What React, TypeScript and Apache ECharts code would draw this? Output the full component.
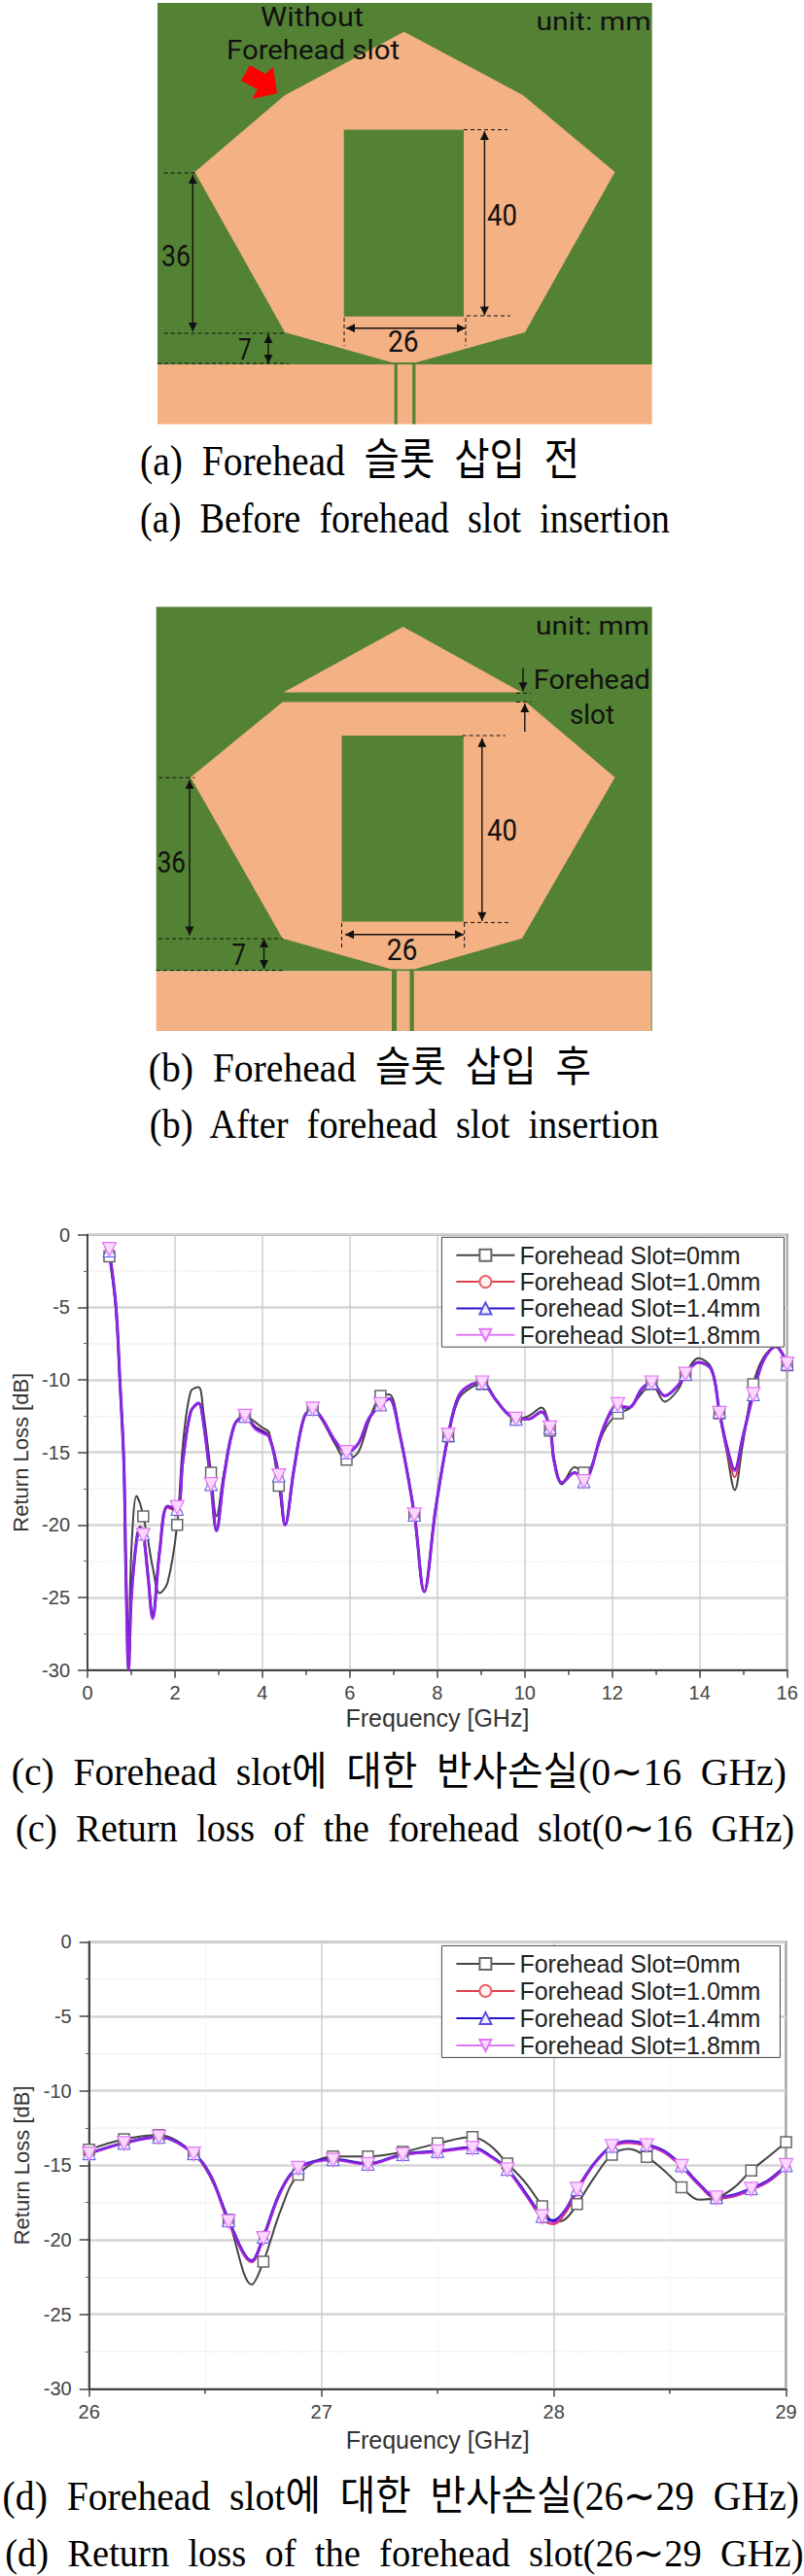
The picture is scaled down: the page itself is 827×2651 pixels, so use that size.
import React, { useEffect, useRef } from "react";
import * as echarts from "echarts";

const seriesNames = ["Forehead Slot=0mm", "Forehead Slot=1.0mm", "Forehead Slot=1.4mm", "Forehead Slot=1.8mm"];

// Panel (c) 0-16 GHz
const freqC = [
  0.5, 0.65, 0.74, 0.83, 0.88, 0.94, 1.0, 1.12, 1.2, 1.275,
  1.38, 1.49, 1.65, 1.83, 2.05, 2.18, 2.36, 2.54, 2.65, 2.825,
  2.95, 3.12, 3.36, 3.6, 3.83, 4.0, 4.15, 4.375, 4.52, 4.72,
  4.95, 5.15, 5.37, 5.66, 5.925, 6.19, 6.43, 6.7, 6.9, 7.13,
  7.475, 7.7, 7.96, 8.25, 8.49, 8.79, 9.025, 9.32, 9.56, 9.8,
  10.08, 10.38, 10.575, 10.67, 10.85, 11.14, 11.35, 11.5, 11.8, 12.125,
  12.38, 12.68, 12.9, 13.2, 13.5, 13.675, 13.97, 14.27, 14.45, 14.62,
  14.8, 14.98, 15.225, 15.45, 15.74, 16,
];
const markersC = [0.5, 1.275, 2.05, 2.825, 3.6, 4.375, 5.15, 5.925, 6.7, 7.475, 8.25, 9.025, 9.8, 10.575, 11.35, 12.125, 12.9, 13.675, 14.45, 15.225, 16];
const slot0C = [
  -1.5, -5.2, -10, -15.6, -24, -29, -22, -18, -18.5, -19.4,
  -21, -22.9, -24.7, -24, -20, -14.5, -10.8, -10.5, -12.2, -16.4,
  -19.4, -16.4, -13.1, -12.5, -12.9, -13.3, -13.6, -17.3, -20, -16.2,
  -12.6, -12, -12.8, -14.4, -15.5, -15, -12.9, -11.1, -11, -13.5,
  -19.3, -24.6, -18.9, -13.9, -11.3, -10.5, -10.3, -11.3, -12.2, -12.7,
  -12.5, -11.9, -13.5, -15.4, -17.2, -16, -16.4, -16.1, -13.6, -12.3,
  -12, -10.9, -10.3, -11.5, -10.7, -9.6, -8.5, -9.2, -12.3, -15,
  -17.6, -14.5, -10.3, -8.5, -7.7, -9,
];
const slot10C = [
  -1.1, -4.9, -10, -15.6, -23.4, -30, -25, -21, -20.1, -20.5,
  -23.3, -26.3, -21.8, -18.8, -19.1, -15.6, -12.2, -11.6, -12.9, -17.1,
  -20.3, -16.7, -13.1, -12.5, -13.2, -13.5, -13.8, -16.6, -20, -16.2,
  -12.6, -12, -12.7, -14.2, -15, -14.4, -12.7, -11.6, -11.3, -13.6,
  -19.3, -24.6, -18.9, -13.8, -11.1, -10.3, -10.2, -11.3, -12.2, -12.7,
  -12.7, -12.2, -13.3, -15.6, -17.1, -16.4, -16.9, -16.3, -13.3, -11.9,
  -11.9, -10.6, -10.2, -11.1, -10.4, -9.6, -8.8, -9.3, -12.2, -14.8,
  -16.7, -14.1, -11, -8.7, -7.7, -8.9,
];
const slot14C = [
  -1.1, -4.9, -10, -15.6, -23.4, -30, -25.1, -21.1, -20.2, -20.6,
  -23.4, -26.4, -21.8, -18.7, -18.9, -15.6, -12.2, -11.6, -12.9, -17.2,
  -20.4, -16.7, -13.1, -12.5, -13.3, -13.6, -13.9, -16.6, -20, -16.2,
  -12.6, -12, -12.7, -14.2, -15, -14.4, -12.7, -11.7, -11.3, -13.6,
  -19.3, -24.6, -18.9, -13.8, -11.1, -10.3, -10.2, -11.3, -12.2, -12.7,
  -12.7, -12.2, -13.3, -15.6, -17.1, -16.4, -17, -16.3, -13.3, -11.8,
  -11.9, -10.6, -10.2, -11.1, -10.4, -9.6, -8.8, -9.3, -12.2, -14.6,
  -16.2, -14, -11, -8.7, -7.7, -8.9,
];
const slot18C = [
  -1, -4.9, -10, -15.6, -23.4, -30, -25.2, -21.2, -20.3, -20.7,
  -23.5, -26.5, -21.8, -18.7, -18.8, -15.6, -12.2, -11.6, -12.9, -17.2,
  -20.4, -16.7, -13.1, -12.5, -13.4, -13.7, -13.9, -16.6, -20, -16.2,
  -12.6, -12, -12.7, -14.2, -15, -14.4, -12.7, -11.7, -11.3, -13.6,
  -19.3, -24.6, -18.9, -13.8, -11.1, -10.3, -10.2, -11.3, -12.2, -12.7,
  -12.7, -12.2, -13.3, -15.6, -17.1, -16.4, -17, -16.3, -13.3, -11.7,
  -11.9, -10.6, -10.2, -11.1, -10.4, -9.6, -8.8, -9.3, -12.3, -14.7,
  -16.3, -14, -11, -8.7, -7.7, -8.9,
];

// Panel (d) 26-29 GHz
const freqD = [
  26, 26.15, 26.3, 26.45, 26.525, 26.6, 26.7, 26.75, 26.825, 26.9,
  27.05, 27.2, 27.35, 27.5, 27.65, 27.725, 27.8, 27.88, 27.95, 28,
  28.05, 28.1, 28.175, 28.25, 28.325, 28.4, 28.475, 28.55, 28.625, 28.7,
  28.775, 28.85, 28.925, 29,
];
const markersD = [26, 26.15, 26.3, 26.45, 26.6, 26.75, 26.9, 27.05, 27.2, 27.35, 27.5, 27.65, 27.8, 27.95, 28.1, 28.25, 28.4, 28.55, 28.7, 28.85, 29];
const slot0D = [
  -13.95, -13.25, -12.97, -14.2, -15.9, -18.66, -23, -21.47, -18, -15.63,
  -14.4, -14.4, -14.1, -13.53, -13.1, -13.65, -14.87, -16.2, -17.74, -18.8,
  -18.6, -17.6, -15.8, -14.29, -13.9, -14.43, -15.35, -16.47, -17.3, -17.18,
  -16.5, -15.35, -14.4, -13.44,
];
const slot10D = [
  -14.2, -13.5, -13.1, -14.2, -15.8, -18.8, -21.5, -19.9, -16.8, -15.2,
  -14.6, -14.9, -14.3, -14.1, -13.85, -14.4, -15.3, -17, -18.6, -18.95,
  -18.2, -16.8, -14.9, -13.75, -13.5, -13.7, -14.15, -15.1, -16.35, -17.25,
  -17.1, -16.65, -16.1, -15.1,
];
const slot14D = [
  -14.2, -13.5, -13.1, -14.2, -15.75, -18.7, -21.4, -19.8, -16.7, -15.15,
  -14.6, -14.9, -14.25, -14.05, -13.8, -14.35, -15.25, -16.9, -18.4, -18.7,
  -18, -16.6, -14.85, -13.7, -13.4, -13.6, -14.05, -15, -16.25, -17.15,
  -17, -16.55, -16, -15,
];
const slot18D = [
  -14.23, -13.53, -13.1, -14.23, -15.8, -18.78, -21.45, -19.9, -16.75, -15.2,
  -14.65, -14.93, -14.29, -14.09, -13.86, -14.4, -15.3, -17, -18.44, -18.85,
  -18, -16.6, -14.9, -13.72, -13.45, -13.67, -14.1, -15.07, -16.3, -17.18,
  -17.05, -16.6, -16.05, -15,
];

const captionA1 = "(a)  Forehead  슬롯  삽입  전";
const captionA2 = "(a)  Before  forehead  slot  insertion";
const captionB1 = "(b)  Forehead  슬롯  삽입  후";
const captionB2 = "(b)  After  forehead  slot  insertion";
const captionC1 = "(c)  Forehead  slot에  대한  반사손실(0∼16  GHz)";
const captionC2 = "(c)  Return  loss  of  the  forehead  slot(0∼16  GHz)";
const captionD1 = "(d)  Forehead  slot에  대한  반사손실(26∼29  GHz)";
const captionD2 = "(d)  Return  loss  of  the  forehead  slot(26∼29  GHz)";

const GREEN = "#548235";
const PEACH = "#f4b183";
const SERIF = '"Liberation Serif","Noto Sans CJK KR",serif';
const SANS = 'Roboto,"Liberation Sans",sans-serif';
const ARIAL = '"Liberation Sans",Arial,sans-serif';

const measure = document.createElement("canvas").getContext("2d") as CanvasRenderingContext2D;
function fit(text: string, x0: number, x1: number, cy: number, h: number, family: string, fill = "#000") {
  const fs = 24;
  measure.font = `${fs}px ${family}`;
  const w = measure.measureText(text).width;
  return {
    type: "text",
    x: x0,
    y: cy,
    scaleX: (x1 - x0) / w,
    scaleY: h / fs,
    style: { text, fontFamily: family, fontSize: fs, fill, align: "left", verticalAlign: "middle" },
  };
}
const rect = (x0: number, y0: number, x1: number, y1: number, fill: string) => ({
  type: "rect",
  shape: { x: x0, y: y0, width: x1 - x0, height: y1 - y0 },
  style: { fill },
});
const poly = (pts: number[][], fill: string) => ({ type: "polygon", shape: { points: pts }, style: { fill } });
const dash = (x0: number, y0: number, x1: number, y1: number) => ({
  type: "line",
  shape: { x1: x0, y1: y0, x2: x1, y2: y1 },
  style: { stroke: "#111", lineWidth: 1, lineDash: [4, 3] },
});
function head(x: number, y: number, dx: number, dy: number) {
  const L = 9;
  const W = 4.5;
  return poly(
    [
      [x, y],
      [x - dx * L + dy * W, y - dy * L + dx * W],
      [x - dx * L - dy * W, y - dy * L - dx * W],
    ],
    "#111"
  );
}
function arrow(x0: number, y0: number, x1: number, y1: number, both = true) {
  const len = Math.hypot(x1 - x0, y1 - y0);
  const dx = (x1 - x0) / len;
  const dy = (y1 - y0) / len;
  const out: any[] = [
    { type: "line", shape: { x1: x0, y1: y0, x2: x1, y2: y1 }, style: { stroke: "#111", lineWidth: 1.4 } },
    head(x1, y1, dx, dy),
  ];
  if (both) out.push(head(x0, y0, -dx, -dy));
  return out;
}

const panelA = [
  rect(162, 3, 670.7, 375, GREEN),
  poly(
    [[415.7, 32.7], [538, 98], [632.5, 177], [540, 342], [428, 373], [403, 373], [293, 342], [200.4, 177], [293, 98]],
    PEACH
  ),
  rect(353.7, 133.5, 477, 325.8, GREEN),
  rect(162, 375, 670.7, 436.5, PEACH),
  rect(405.6, 373, 408.8, 436.5, GREEN),
  rect(424.2, 373, 427.4, 436.5, GREEN),
  poly([[257, 67], [248, 83], [265, 92], [259, 102], [285, 96], [281, 69], [273, 76]], "#ff0000"),
  dash(168.6, 178, 201.5, 178),
  dash(168.6, 343, 293, 343),
  dash(162, 374, 297, 374),
  dash(477, 133.5, 522, 133.5),
  dash(480, 325, 525, 325),
  dash(354, 327, 354, 356),
  dash(479, 327, 479, 356),
  ...arrow(198.3, 180, 198.3, 341),
  ...arrow(276, 344, 276, 374),
  ...arrow(498.4, 135, 498.4, 324.5),
  ...arrow(356, 337.7, 479, 337.7),
  fit("Without", 268, 374, 17.5, 27, SANS, "#111"),
  fit("Forehead slot", 233, 411, 52, 27, SANS, "#111"),
  fit("unit: mm", 551.4, 669.7, 22, 25, SANS, "#111"),
  fit("36", 166, 196, 263.5, 31, SANS, "#111"),
  fit("40", 501, 532, 221, 31, SANS, "#111"),
  fit("26", 399, 430.5, 352, 31, SANS, "#111"),
  fit("7", 245, 258.7, 359.6, 31, SANS, "#111"),
  fit(captionA1, 144, 596, 474, 45, SERIF),
  fit(captionA2, 144, 689, 533, 45, SERIF),
];

const panelB = [
  rect(160.7, 624.6, 670.7, 999.4, GREEN),
  poly([[414.6, 645], [536.6, 712.5], [291.6, 712.5]], PEACH),
  poly(
    [[290.6, 722.4], [541, 722.4], [632.5, 800], [537, 965.7], [426, 997.5], [403, 997.5], [290.6, 965.7], [196, 800]],
    PEACH
  ),
  rect(351.5, 757, 476.7, 948.6, GREEN),
  rect(160.7, 999.4, 669.7, 1061, PEACH),
  rect(669.7, 999.4, 670.7, 1061, GREEN),
  rect(403, 997.5, 408, 1061, GREEN),
  rect(421.5, 997.5, 425.8, 1061, GREEN),
  dash(163.3, 800.3, 200.4, 800.3),
  dash(163, 966, 290.6, 966),
  dash(160.7, 998.6, 290.6, 998.6),
  dash(475.6, 757, 519.6, 757),
  dash(477, 949.4, 526, 949.4),
  dash(351.5, 950, 351.5, 977.6),
  dash(477.7, 950, 477.7, 977.6),
  dash(531, 713.3, 546, 713.3),
  dash(531, 722.4, 546, 722.4),
  ...arrow(195, 802.7, 195, 962.5),
  ...arrow(271.5, 966, 271.5, 997),
  ...arrow(495.8, 759.8, 495.8, 947.8),
  ...arrow(355, 961.7, 477, 961.7),
  ...arrow(538, 687.4, 538, 711.3, false),
  ...arrow(539.8, 753, 539.8, 724, false),
  fit("unit: mm", 551, 668, 644.5, 25, SANS, "#111"),
  fit("Forehead", 548.8, 669, 699.4, 27, SANS, "#111"),
  fit("slot", 586, 632, 736, 27, SANS, "#111"),
  fit("36", 161.7, 191, 887, 31, SANS, "#111"),
  fit("40", 501, 532, 854.4, 31, SANS, "#111"),
  fit("26", 397.7, 429.5, 976.8, 31, SANS, "#111"),
  fit("7", 238.6, 253, 982.3, 31, SANS, "#111"),
  fit(captionB1, 152.7, 608, 1098.8, 43, SERIF),
  fit(captionB2, 153.8, 680, 1157, 43, SERIF),
];

const captions = [
  fit(captionC1, 11.7, 808.6, 1823, 41, SERIF),
  fit(captionC2, 16, 816.5, 1881.7, 41, SERIF),
  fit(captionD1, 2.6, 822, 2569, 42, SERIF),
  fit(captionD2, 5.3, 826.5, 2627, 40, SERIF),
];

const styles = [
  { color: "#444444", symbol: "rect", rotate: 0, width: 2, size: 11, fill: "#ffffff", border: "#666666", bw: 1.5, opacity: 1 },
  { color: "#e0404f", symbol: "circle", rotate: 0, width: 2, size: 9, fill: "#fff4f4", border: "#e8606a", bw: 1, opacity: 1 },
  { color: "#2412c8", symbol: "triangle", rotate: 0, width: 3, size: 13, fill: "#eeeeff", border: "#5a50e0", bw: 1, opacity: 1 },
  { color: "#d030f0", symbol: "triangle", rotate: 180, width: 2.6, size: 14, fill: "#fbd8ff", border: "#e078f2", bw: 1.2, opacity: 0.65 },
];

function makeSeries(idx: number, freq: number[], marks: number[], values: number[][]) {
  return values.map((vals, i) => ({
    type: "line",
    name: seriesNames[i],
    xAxisIndex: idx,
    yAxisIndex: idx,
    smooth: 0.35,
    showAllSymbol: true,
    symbol: styles[i].symbol,
    symbolRotate: styles[i].rotate,
    symbolSize: styles[i].size,
    lineStyle: { color: styles[i].color, width: styles[i].width, opacity: styles[i].opacity },
    itemStyle: { color: styles[i].fill, borderColor: styles[i].border, borderWidth: styles[i].bw },
    clip: true,
    silent: true,
    data: freq.map((f, k) =>
      marks.includes(f) ? { value: [f, vals[k]] } : { value: [f, vals[k]], symbol: "none" }
    ),
  }));
}

function xAxis(grid: number, min: number, max: number, interval: number, margin: number, nameGap: number, minorGrid: boolean) {
  return {
    type: "value",
    gridIndex: grid,
    min,
    max,
    interval,
    name: "Frequency [GHz]",
    nameLocation: "middle",
    nameGap,
    nameTextStyle: { fontFamily: ARIAL, fontSize: 25, color: "#333" },
    axisLine: { show: true, onZero: false, lineStyle: { color: "#444", width: 2 } },
    axisTick: { show: true, length: 8, lineStyle: { color: "#444", width: 1.5 } },
    minorTick: { show: true, splitNumber: 2, length: 5, lineStyle: { color: "#444", width: 1.5 } },
    axisLabel: { margin, fontFamily: ARIAL, fontSize: 20, color: "#444", hideOverlap: false },
    splitLine: { show: true, lineStyle: { color: "#cfcfcf", width: 1.5 } },
    minorSplitLine: { show: minorGrid, lineStyle: { color: "#ececec", width: 1, type: "dotted" } },
  };
}
function yAxis(grid: number) {
  return {
    type: "value",
    gridIndex: grid,
    min: -30,
    max: 0,
    interval: 5,
    name: "Return Loss [dB]",
    nameLocation: "middle",
    nameGap: 55,
    nameRotate: 90,
    nameTextStyle: { fontFamily: ARIAL, fontSize: 22, color: "#333" },
    axisLine: { show: true, onZero: false, lineStyle: { color: "#444", width: 2 } },
    axisTick: { show: true, length: 10, lineStyle: { color: "#444", width: 1.5 } },
    minorTick: { show: true, splitNumber: 2, length: 4, lineStyle: { color: "#666", width: 1 } },
    axisLabel: { margin: 18, fontFamily: ARIAL, fontSize: 20, color: "#444" },
    splitLine: { show: true, lineStyle: { color: "#d4d4d4", width: 2.5 } },
    minorSplitLine: { show: true, lineStyle: { color: "#e6e6e6", width: 1.5, type: "dotted" } },
  };
}
function legend(left: number, top: number, padR: number, gap: number) {
  return {
    data: seriesNames,
    orient: "vertical",
    left,
    top,
    selectedMode: false,
    backgroundColor: "#ffffff",
    borderColor: "#444",
    borderWidth: 1,
    borderRadius: 0,
    padding: [6, padR, 0, 14],
    itemWidth: 60,
    itemHeight: 15,
    itemGap: gap,
    textStyle: { fontFamily: ARIAL, fontSize: 25, color: "#222" },
  };
}

export default function App() {
  const ref = useRef<HTMLDivElement>(null);
  useEffect(() => {
    if (!ref.current) return;
    const chart = echarts.init(ref.current, undefined, { renderer: "svg" });
    chart.setOption({
      animation: false,
      backgroundColor: "#ffffff",
      grid: [
        { left: 90, top: 1270.7, width: 719.7, height: 448, show: true, borderColor: "#444", borderWidth: 2, backgroundColor: "transparent" },
        { left: 91.7, top: 1998.4, width: 716.9, height: 460, show: true, borderColor: "#444", borderWidth: 2, backgroundColor: "transparent" },
      ],
      xAxis: [xAxis(0, 0, 16, 2, 13, 37, false), xAxis(1, 26, 29, 1, 14, 40, true)],
      yAxis: [yAxis(0), yAxis(1)],
      legend: [legend(454.4, 1273.3, 24, 2.3), legend(454.4, 2002.4, 20, 3)],
      series: [
        ...makeSeries(0, freqC, markersC, [slot0C, slot10C, slot14C, slot18C]),
        ...makeSeries(1, freqD, markersD, [slot0D, slot10D, slot14D, slot18D]),
      ],
      graphic: { elements: [...panelA, ...panelB, ...captions] },
    });
    return () => chart.dispose();
  }, []);
  return <div ref={ref} style={{ position: "absolute", left: 0, top: 0, width: 827, height: 2651 }} />;
}
